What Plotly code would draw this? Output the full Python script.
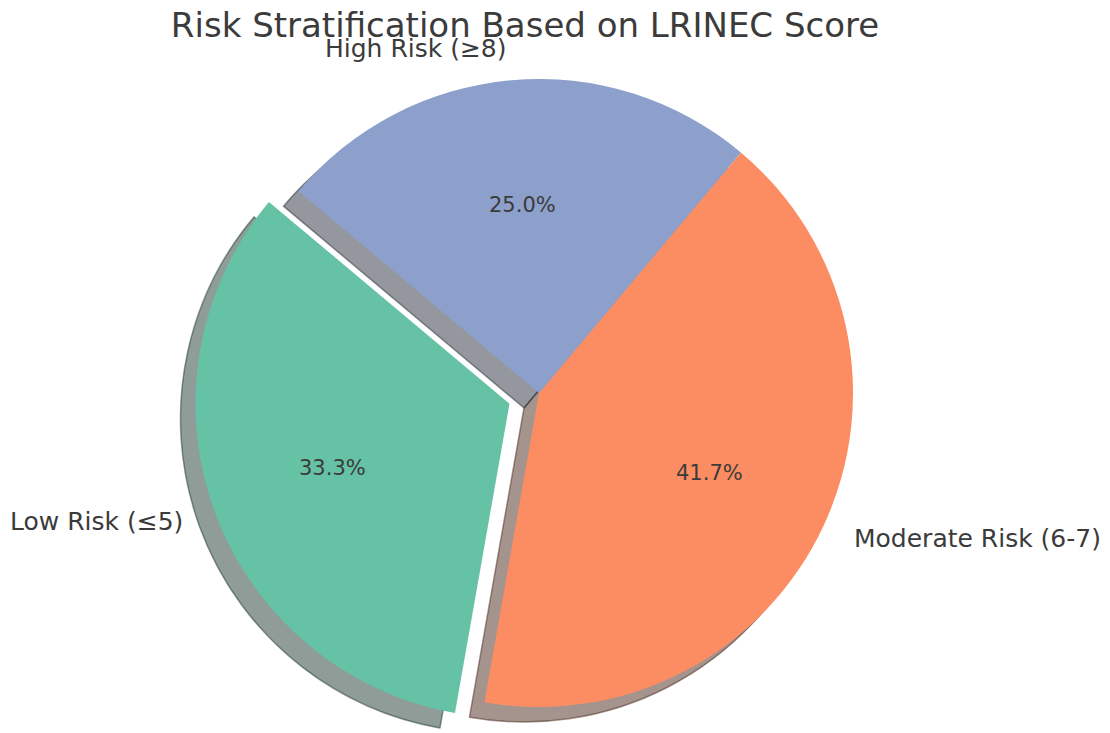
import math
import plotly.graph_objects as go

# LRINEC risk groups (patient counts)
categories = ["Low Risk (≤5)", "Moderate Risk (6-7)", "High Risk (≥8)"]
counts = [4, 5, 3]
colors = ["#66c2a5", "#fc8d62", "#8da0cb"]
explode = [0.1, 0.0, 0.0]

W, H = 1110, 733
CX, CY, R = 539, 393, 314        # pie centre and radius in pixels
START = 140                      # start angle of the first wedge (deg, ccw from 3 o'clock)
SHADOW_DX, SHADOW_DY = -15, 15   # drop-shadow offset in pixels
TEXT = "#3b3b3b"
FONT = "DejaVu Sans"

total = sum(counts)
# plotly: counterclockwise pies end the first slice at `rotation` (clockwise from 12 o'clock)
rotation = 90 - (START + 360 * counts[0] / total)
while rotation < -360:
    rotation += 360

# wedge mid-angles
mids = []
acc = START
for v in counts:
    span = 360 * v / total
    mids.append(acc + span / 2)
    acc += span


def domain(px, py):
    x0, x1 = (px - R) / W, (px + R) / W
    y0, y1 = 1 - (py + R) / H, 1 - (py - R) / H
    return dict(x=[max(0, x0), min(1, x1)], y=[max(0, y0), min(1, y1)])


def shade(hex_color):
    r, g, b = (int(hex_color[i:i + 2], 16) for i in (1, 3, 5))
    return f"rgba({0.3 * r:.0f},{0.3 * g:.0f},{0.3 * b:.0f},0.5)"


CLEAR = "rgba(0,0,0,0)"

# wedge centres after explode
centres = []
for e, m in zip(explode, mids):
    a = math.radians(m)
    centres.append((CX + e * R * math.cos(a), CY - e * R * math.sin(a)))

fig = go.Figure()

# group wedges that share the same centre
groups = {}
for i, c in enumerate(centres):
    groups.setdefault((round(c[0], 3), round(c[1], 3)), []).append(i)


def pie_trace(centre, members, fill_fn, line_w):
    fills = [fill_fn(colors[i]) if i in members else CLEAR for i in range(len(counts))]
    return go.Pie(
        labels=categories, values=counts, sort=False,
        direction="counterclockwise", rotation=rotation,
        marker=dict(colors=fills, line=dict(color=fills, width=line_w)),
        textinfo="none", hoverinfo="skip", showlegend=False,
        domain=domain(*centre),
    )


# shadows underneath
for (gx, gy), members in groups.items():
    fig.add_trace(pie_trace((gx + SHADOW_DX, gy + SHADOW_DY), members, shade, 1.5))
# wedges on top
for (gx, gy), members in groups.items():
    fig.add_trace(pie_trace((gx, gy), members, lambda c: c, 0))

annotations = []
for i, (lab, v) in enumerate(zip(categories, counts)):
    a = math.radians(mids[i])
    ex, ey = centres[i]
    # category label just outside the rim
    lx = ex + 1.1 * R * math.cos(a)
    ly = ey - 1.1 * R * math.sin(a)
    annotations.append(dict(
        x=lx / W, y=1 - ly / H, xref="paper", yref="paper",
        text=lab, showarrow=False,
        xanchor="left" if math.cos(a) > 0 else "right", yanchor="middle",
        font=dict(family=FONT, size=25, color=TEXT),
    ))
    # percentage inside the wedge
    tx = ex + 0.6 * R * math.cos(a)
    ty = ey - 0.6 * R * math.sin(a)
    annotations.append(dict(
        x=tx / W, y=1 - ty / H, xref="paper", yref="paper",
        text=f"{100 * v / total:.1f}%", showarrow=False,
        xanchor="center", yanchor="middle",
        font=dict(family=FONT, size=21, color=TEXT),
    ))

fig.update_layout(
    width=W, height=H,
    margin=dict(l=0, r=0, t=0, b=0),
    paper_bgcolor="white", plot_bgcolor="white",
    title=dict(
        text="Risk Stratification Based on LRINEC Score",
        x=525 / W, xanchor="center", xref="paper",
        y=1 - 25 / H, yanchor="middle", yref="container",
        font=dict(family=FONT, size=34, color=TEXT),
    ),
    annotations=annotations,
)

fig.write_html("out.html")
